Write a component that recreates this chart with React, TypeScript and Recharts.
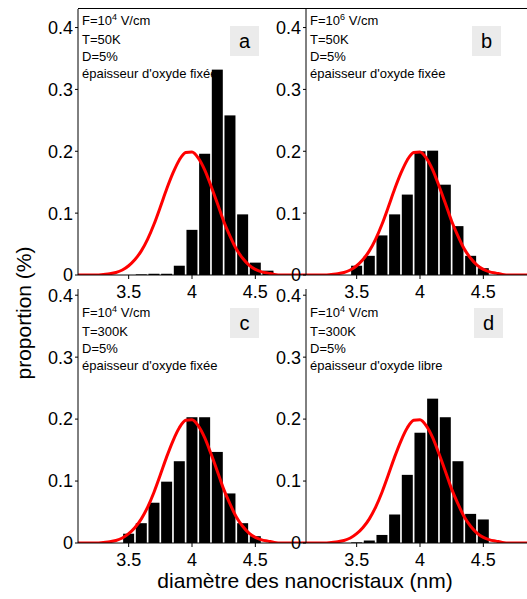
import { ComposedChart, Bar, Line, XAxis, YAxis } from "recharts";

// diameter grid of the red fitted curve (nm) and its read values
const curveX = [
  3.1, 3.15, 3.2, 3.25, 3.3, 3.35, 3.4, 3.45, 3.5, 3.55, 3.6, 3.65, 3.7, 3.75, 3.8, 3.85, 3.9, 3.95, 4.0,
  4.05, 4.1, 4.15, 4.2, 4.25, 4.3, 4.35, 4.4, 4.45, 4.5, 4.55, 4.6, 4.65, 4.7, 4.75, 4.8, 4.85, 4.9,
];
const curveY = [
  0, 0, 0, 0, 0.001, 0.002, 0.004, 0.008, 0.015, 0.025, 0.039, 0.058, 0.082, 0.11, 0.139, 0.165, 0.186, 0.198, 0.199,
  0.189, 0.17, 0.144, 0.116, 0.087, 0.063, 0.042, 0.027, 0.016, 0.009, 0.005, 0.003, 0.001, 0, 0, 0, 0, 0,
];

// histogram bins (nm)
const binX = [3.5, 3.6, 3.7, 3.8, 3.9, 4.0, 4.1, 4.2, 4.3, 4.4, 4.5, 4.6];
const barsA = [0, 0.001, 0.002, 0.002, 0.015, 0.073, 0.196, 0.332, 0.258, 0.098, 0.02, 0.007];
const barsB = [0.015, 0.031, 0.064, 0.098, 0.13, 0.2, 0.201, 0.146, 0.079, 0.031, 0.011, 0];
const barsC = [0.015, 0.032, 0.065, 0.099, 0.132, 0.203, 0.203, 0.147, 0.08, 0.032, 0.011, 0];
const barsD = [0.001, 0.004, 0.013, 0.046, 0.11, 0.178, 0.233, 0.203, 0.132, 0.047, 0.038, 0];

const xTicks = [3.5, 4, 4.5];
const yTicks = [0, 0.1, 0.2, 0.3, 0.4];

const FONT = '"Liberation Sans", Arial, sans-serif';
const PLOT_W = 228;
const Y_W = 60;

function buildRows(bars: number[]) {
  return curveX.map((x, i) => {
    const j = binX.findIndex((b) => Math.abs(b - x) < 1e-6);
    return { x, curve: curveY[i], bar: j >= 0 ? bars[j] : undefined };
  });
}

const BarShape = (p: any) => {
  const { x, y, width, height } = p;
  if (!height || height <= 0) return null;
  const w = 11;
  return <rect x={x + width / 2 - w / 2} y={y} width={w} height={height} fill="#000" />;
};

interface PanelProps {
  left: number;
  top: number;
  yMax: number;
  bars: number[];
}

function Panel({ left, top, yMax, bars }: PanelProps) {
  const plotH = Math.round(yMax * 619);
  const tick = { fill: "#000", fontSize: 18, fontFamily: FONT };
  return (
    <div style={{ position: "absolute", left: left - Y_W, top: top - 10 }}>
      <ComposedChart
        width={Y_W + PLOT_W + 10}
        height={10 + plotH + 30}
        data={buildRows(bars)}
        margin={{ top: 10, right: 10, bottom: 0, left: 0 }}
      >
        <XAxis
          dataKey="x"
          type="number"
          domain={[3.1, 4.9]}
          allowDataOverflow
          ticks={xTicks}
          tick={tick}
          tickSize={4}
          tickMargin={6}
          height={30}
          stroke="#000"
        />
        <YAxis
          type="number"
          domain={[0, yMax]}
          allowDataOverflow
          ticks={yTicks}
          tick={tick}
          tickSize={3}
          tickMargin={2}
          width={Y_W}
          stroke="#000"
        />
        <Bar dataKey="bar" shape={BarShape} isAnimationActive={false} />
        <Line
          dataKey="curve"
          type="monotone"
          stroke="#ff0000"
          strokeWidth={3}
          dot={false}
          activeDot={false}
          isAnimationActive={false}
        />
      </ComposedChart>
    </div>
  );
}

function Note({ left, top, field, temp, oxide }: { left: number; top: number; field: number; temp: string; oxide: string }) {
  return (
    <div style={{ position: "absolute", left, top, fontFamily: FONT, fontSize: 13, lineHeight: "17px", color: "#000", whiteSpace: "nowrap" }}>
      <div>
        F=10<span style={{ fontSize: 9, position: "relative", top: -5 }}>{field}</span> V/cm
      </div>
      <div>T={temp}</div>
      <div>D=5%</div>
      <div>épaisseur d'oxyde {oxide}</div>
    </div>
  );
}

function Tag({ left, top, text }: { left: number; top: number; text: string }) {
  return (
    <div
      style={{
        position: "absolute", left, top, width: 29, height: 30, background: "#ebebeb",
        fontFamily: FONT, fontSize: 20, lineHeight: "30px", textAlign: "center", color: "#000",
      }}
    >
      {text}
    </div>
  );
}

export default function App() {
  return (
    <div style={{ position: "absolute", left: 0, top: 0, width: 527, height: 599, overflow: "hidden", background: "#fff" }}>
      {/* annotations sit under the bars, as in the original */}
      <Note left={82} top={12} field={4} temp="50K" oxide="fixée" />
      <Note left={310} top={12} field={6} temp="50K" oxide="fixée" />
      <Note left={82} top={304} field={4} temp="300K" oxide="fixée" />
      <Note left={310} top={304} field={4} temp="300K" oxide="libre" />

      <Tag left={230} top={26} text="a" />
      <Tag left={472} top={26} text="b" />
      <Tag left={230} top={308} text="c" />
      <Tag left={474} top={308} text="d" />

      <div style={{ position: "absolute", left: 78, top: 8, width: 449, height: 1, background: "#000" }} />
      <Panel left={78} top={9} yMax={0.43} bars={barsA} />
      <Panel left={306} top={9} yMax={0.43} bars={barsB} />
      <Panel left={78} top={289} yMax={0.41} bars={barsC} />
      <Panel left={306} top={289} yMax={0.41} bars={barsD} />

      <div
        style={{
          position: "absolute", left: 24, top: 313, transform: "translate(-50%, -50%) rotate(-90deg)",
          fontFamily: FONT, fontSize: 21, whiteSpace: "nowrap", color: "#000",
        }}
      >
        proportion (%)
      </div>
      <div
        style={{
          position: "absolute", left: 305, top: 581, transform: "translate(-50%, -50%)",
          fontFamily: FONT, fontSize: 21, whiteSpace: "nowrap", color: "#000",
        }}
      >
        diamètre des nanocristaux (nm)
      </div>
    </div>
  );
}
